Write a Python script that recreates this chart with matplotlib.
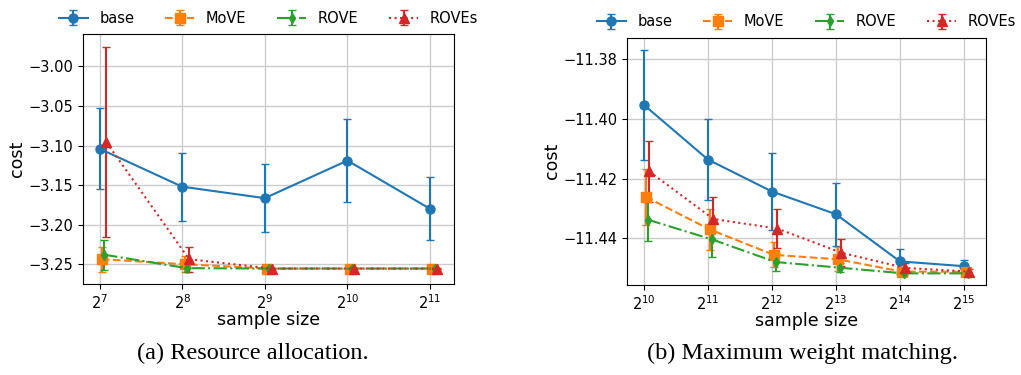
import numpy as np
import matplotlib
matplotlib.use("Agg")
import matplotlib.pyplot as plt

# resource allocation: mean cost and std over runs
ra_sizes = [2**7, 2**8, 2**9, 2**10, 2**11]
ra_base = [-3.104, -3.152, -3.1665, -3.119, -3.180]
ra_base_err = [0.051, 0.043, 0.043, 0.053, 0.040]
ra_move = [-3.2437, -3.250, -3.2555, -3.2555, -3.2555]
ra_move_err = [0.016, 0.010, 0.001, 0.001, 0.001]
ra_rove = [-3.238, -3.255, -3.2555, -3.2555, -3.2555]
ra_rove_err = [0.019, 0.005, 0.001, 0.001, 0.001]
ra_roves = [-3.096, -3.2437, -3.2555, -3.2555, -3.2555]
ra_roves_err = [0.120, 0.016, 0.001, 0.001, 0.001]

# maximum weight matching
mw_sizes = [2**10, 2**11, 2**12, 2**13, 2**14, 2**15]
mw_base = [-11.3953, -11.4136, -11.4243, -11.4319, -11.4477, -11.4493]
mw_base_err = [0.0185, 0.0135, 0.0128, 0.0106, 0.0042, 0.0021]
mw_move = [-11.4261, -11.4370, -11.4455, -11.4470, -11.4511, -11.4512]
mw_move_err = [0.0095, 0.0070, 0.0042, 0.0040, 0.0015, 0.0010]
mw_rove = [-11.4337, -11.4403, -11.4479, -11.4498, -11.4517, -11.4517]
mw_rove_err = [0.0073, 0.0058, 0.0030, 0.0015, 0.0005, 0.0005]
mw_roves = [-11.4176, -11.4335, -11.4367, -11.4448, -11.4499, -11.4511]
mw_roves_err = [0.0103, 0.0072, 0.0065, 0.0045, 0.0015, 0.0010]

labels = ["base", "MoVE", "ROVE", "ROVEs"]
styles = [("C0", "-", "o", 6.5), ("C1", "--", "s", 6.5),
          ("C2", "-.", "d", 5.5), ("C3", ":", "^", 6.5)]
shifts = [1.0, 1.02, 1.04, 1.06]   # small dodge so the error bars don't overlap

fig = plt.figure(figsize=(10.21, 3.75), dpi=100)
ax1 = fig.add_axes([0.0813, 0.2427, 0.3634, 0.6667])
ax2 = fig.add_axes([0.6144, 0.2400, 0.3510, 0.6595])


def draw(ax, sizes, series, xlim, ylim, yticks):
    for (y, e), lab, (c, ls, mk, ms), s in zip(series, labels, styles, shifts):
        ax.errorbar(np.array(sizes) * s, y, yerr=e, color=c, ls=ls, marker=mk,
                    ms=ms, capsize=3, lw=1.5, label=lab)
    ax.set_xscale("log", base=2)
    ax.set_xticks(sizes)
    ax.set_xlim(*xlim)
    ax.set_ylim(*ylim)
    ax.set_yticks(yticks)
    ax.grid(True, color="#cccccc", lw=1)
    ax.set_axisbelow(True)
    ax.tick_params(labelsize=10.5)
    ax.set_xlabel("sample size", fontsize=12.5, labelpad=-1)
    ax.set_ylabel("cost", fontsize=12.5, labelpad=2)
    ax.legend(loc="lower center", bbox_to_anchor=(0.5, 1.01), ncol=4,
              frameon=False, fontsize=10.5, columnspacing=2.1, borderaxespad=0)


draw(ax1, ra_sizes,
     [(ra_base, ra_base_err), (ra_move, ra_move_err),
      (ra_rove, ra_rove_err), (ra_roves, ra_roves_err)],
     (2**6.80, 2**11.29), (-3.275, -2.959),
     [-3.25, -3.20, -3.15, -3.10, -3.05, -3.00])
draw(ax2, mw_sizes,
     [(mw_base, mw_base_err), (mw_move, mw_move_err),
      (mw_rove, mw_rove_err), (mw_roves, mw_roves_err)],
     (2**9.74, 2**15.34), (-11.4556, -11.3728),
     [-11.44, -11.42, -11.40, -11.38])

fig.text(0.248, 0.058, "(a) Resource allocation.", ha="center", va="center",
         family="Liberation Serif", fontsize=17.5)
fig.text(0.786, 0.058, "(b) Maximum weight matching.", ha="center", va="center",
         family="Liberation Serif", fontsize=17.5)

fig.savefig("out.png", dpi=100)
